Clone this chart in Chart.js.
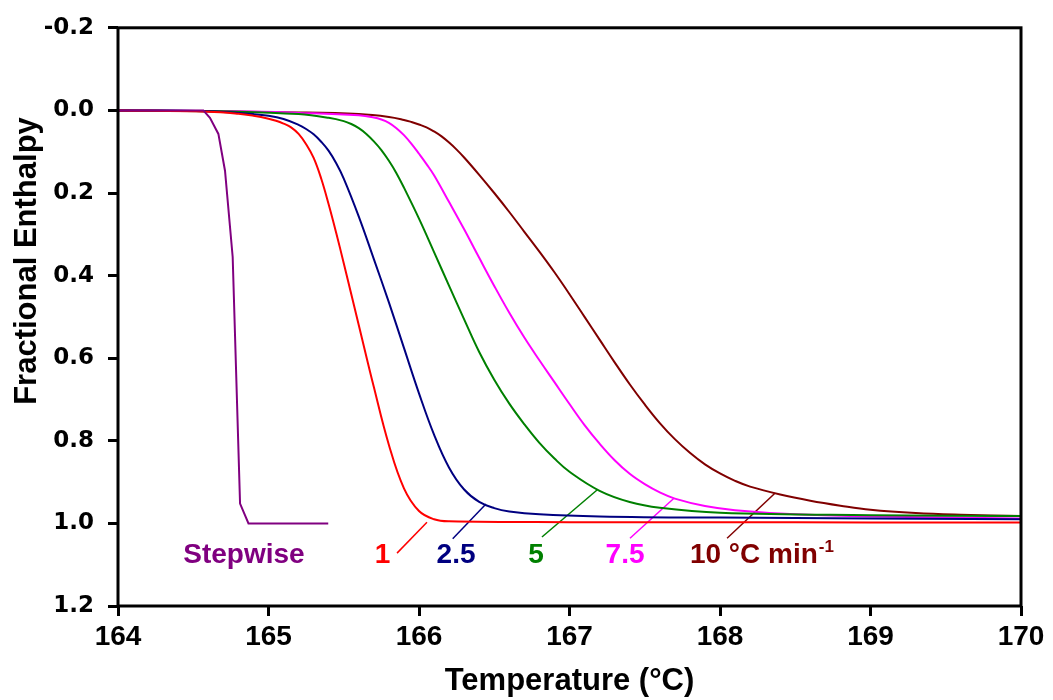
<!DOCTYPE html>
<html>
<head>
<meta charset="utf-8">
<script src="https://cdn.jsdelivr.net/npm/chart.js@4.4.1/dist/chart.umd.min.js"></script>
<style>
  html, body { margin: 0; padding: 0; background: #fff; }
</style>
</head>
<body>
<canvas id="enthalpyChart" width="1053" height="700"></canvas>
<script>
// Temperature (°C) / fractional enthalpy readings per heating rate
const stepTemp = [164, 164.567, 164.611, 164.667, 164.711, 164.762, 164.811, 164.867, 165.397];
const stepEnth = [0, 0, 0.018, 0.057, 0.146, 0.355, 0.952, 1.0, 1.0];

const rate1Temp = [164, 164.6, 164.8, 164.9, 165.0, 165.05, 165.1, 165.15, 165.2, 165.25, 165.3, 165.35, 165.4, 165.45, 165.5, 165.6, 165.7, 165.8, 165.9, 166.0, 166.1, 166.2, 167, 168, 169, 170];
const rate1Enth = [0, 0.003, 0.008, 0.013, 0.02, 0.025, 0.032, 0.041, 0.057, 0.082, 0.115, 0.165, 0.228, 0.297, 0.37, 0.52, 0.67, 0.81, 0.915, 0.97, 0.99, 0.995, 0.997, 0.997, 0.998, 0.998];

const rate25Temp = [164, 164.6, 164.9, 165.0, 165.1, 165.2, 165.25, 165.3, 165.35, 165.4, 165.45, 165.5, 165.6, 165.7, 165.8, 165.9, 166.0, 166.1, 166.2, 166.3, 166.4, 166.5, 166.6, 166.8, 167.2, 168, 170];
const rate25Enth = [0, 0.002, 0.009, 0.013, 0.021, 0.035, 0.045, 0.058, 0.076, 0.098, 0.128, 0.165, 0.257, 0.36, 0.465, 0.575, 0.685, 0.785, 0.865, 0.918, 0.948, 0.963, 0.971, 0.978, 0.983, 0.986, 0.99];

const rate5Temp = [164, 164.8, 165.2, 165.4, 165.5, 165.55, 165.6, 165.65, 165.7, 165.75, 165.8, 165.85, 165.9, 166.0, 166.1, 166.2, 166.3, 166.4, 166.5, 166.6, 166.7, 166.8, 166.9, 167.0, 167.2, 167.4, 167.6, 168.0, 169.0, 170];
const rate5Enth = [0, 0.003, 0.009, 0.018, 0.026, 0.033, 0.043, 0.057, 0.075, 0.096, 0.122, 0.152, 0.187, 0.262, 0.343, 0.425, 0.506, 0.585, 0.652, 0.71, 0.76, 0.805, 0.843, 0.875, 0.921, 0.948, 0.962, 0.974, 0.98, 0.982];

const rate75Temp = [164, 164.8, 165.2, 165.6, 165.7, 165.75, 165.8, 165.85, 165.9, 165.95, 166.0, 166.05, 166.1, 166.2, 166.3, 166.4, 166.5, 166.6, 166.7, 166.8, 166.9, 167.0, 167.1, 167.2, 167.3, 167.4, 167.5, 167.6, 167.7, 167.9, 168.1, 168.5, 169.0, 170];
const rate75Enth = [0, 0.002, 0.006, 0.012, 0.017, 0.022, 0.03, 0.043, 0.06, 0.081, 0.105, 0.13, 0.157, 0.222, 0.288, 0.357, 0.425, 0.49, 0.55, 0.605, 0.658, 0.711, 0.762, 0.807, 0.847, 0.88, 0.905, 0.925, 0.94, 0.958, 0.968, 0.978, 0.983, 0.988];

const rate10Temp = [164, 165.2, 165.6, 165.8, 165.9, 165.95, 166.0, 166.05, 166.1, 166.15, 166.2, 166.25, 166.3, 166.4, 166.5, 166.6, 166.7, 166.8, 166.9, 167.0, 167.1, 167.2, 167.3, 167.4, 167.5, 167.6, 167.7, 167.8, 167.9, 168.0, 168.1, 168.2, 168.4, 168.6, 168.8, 169.0, 169.3, 169.6, 170];
const rate10Enth = [0, 0.005, 0.009, 0.016, 0.023, 0.028, 0.034, 0.041, 0.051, 0.063, 0.078, 0.095, 0.114, 0.156, 0.2, 0.246, 0.294, 0.342, 0.392, 0.445, 0.5, 0.555, 0.61, 0.663, 0.712, 0.757, 0.796, 0.829, 0.857, 0.879, 0.897, 0.911, 0.93, 0.945, 0.957, 0.967, 0.975, 0.979, 0.982];

// leader lines from each curve to its label: [temp, enthalpy] at curve end and label end
const leaderRate1 = [[166.053, 0.997], [165.854, 1.072]];
const leaderRate25 = [[166.445, 0.953], [166.224, 1.037]];
const leaderRate5 = [[167.183, 0.919], [166.817, 1.033]];
const leaderRate75 = [[167.694, 0.939], [167.402, 1.036]];
const leaderRate10 = [[168.365, 0.927], [168.047, 1.036]];

const xTicks = [164, 165, 166, 167, 168, 169, 170];
const yTicks = [-0.2, 0.0, 0.2, 0.4, 0.6, 0.8, 1.0, 1.2];

// series labels, anchored in data units
const curveLabels = [
    { text: 'Stepwise', temp: 164.837, enth: 1.096, color: '#800080', align: 'center' },
    { text: '1', temp: 165.757, enth: 1.096, color: '#FF0000', align: 'center' },
    { text: '2.5', temp: 166.246, enth: 1.096, color: '#000080', align: 'center' },
    { text: '5', temp: 166.777, enth: 1.097, color: '#008000', align: 'center' },
    { text: '7.5', temp: 167.369, enth: 1.097, color: '#FF00FF', align: 'center' },
    { text: '10 °C min', sup: '-1', temp: 167.8, enth: 1.096, color: '#800000', align: 'left' }
];

const toPoints = (xs, ys) => xs.map((x, i) => ({ x: x, y: ys[i] }));
const toLeader = pairs => pairs.map(p => ({ x: p[0], y: p[1] }));

function curve(label, xs, ys, color, smooth) {
    return {
        label: label,
        data: toPoints(xs, ys),
        borderColor: color,
        borderWidth: 2,
        pointRadius: 0,
        fill: false,
        tension: smooth ? 0.4 : 0
    };
}

function leader(pairs, color) {
    return {
        label: 'leader',
        data: toLeader(pairs),
        borderColor: color,
        borderWidth: 1.5,
        pointRadius: 0,
        fill: false,
        tension: 0
    };
}

const boldFont = '"Liberation Sans", Arial, sans-serif';

// box around the plot, labels and the y title
const framePlugin = {
    id: 'frame',
    afterDatasetsDraw(chart) {
        const { ctx, chartArea: a, scales } = chart;
        ctx.save();
        ctx.strokeStyle = '#000';
        ctx.lineWidth = 3;
        ctx.strokeRect(a.left, a.top, a.right - a.left, a.bottom - a.top);

        curveLabels.forEach(l => {
            const px = scales.x.getPixelForValue(l.temp);
            const py = scales.y.getPixelForValue(l.enth);
            ctx.fillStyle = l.color;
            ctx.font = 'bold 28px ' + boldFont;
            ctx.textBaseline = 'alphabetic';
            ctx.textAlign = l.align;
            ctx.fillText(l.text, px, py);
            if (l.sup) {
                const w = ctx.measureText(l.text).width;
                ctx.font = 'bold 17px ' + boldFont;
                ctx.textAlign = 'left';
                ctx.fillText(l.sup, px + w + 1, py - 11);
            }
        });

        ctx.translate(27, 261);
        ctx.rotate(-Math.PI / 2);
        ctx.fillStyle = '#000';
        ctx.font = 'bold 31px ' + boldFont;
        ctx.textAlign = 'center';
        ctx.textBaseline = 'middle';
        ctx.fillText('Fractional Enthalpy', 0, 0);
        ctx.restore();
    }
};

const ctx = document.getElementById('enthalpyChart').getContext('2d');
const chart = new Chart(ctx, {
    type: 'line',
    data: {
        datasets: [
            curve('Stepwise', stepTemp, stepEnth, '#800080', false),
            curve('1', rate1Temp, rate1Enth, '#FF0000', true),
            curve('2.5', rate25Temp, rate25Enth, '#000080', true),
            curve('5', rate5Temp, rate5Enth, '#008000', true),
            curve('7.5', rate75Temp, rate75Enth, '#FF00FF', true),
            curve('10', rate10Temp, rate10Enth, '#800000', true),
            leader(leaderRate1, '#FF0000'),
            leader(leaderRate25, '#000080'),
            leader(leaderRate5, '#008000'),
            leader(leaderRate75, '#FF00FF'),
            leader(leaderRate10, '#800000')
        ]
    },
    options: {
        responsive: false,
        animation: false,
        devicePixelRatio: 1,
        layout: {
            padding: { top: 27, right: 32, left: 0, bottom: 0 }
        },
        plugins: {
            legend: { display: false },
            tooltip: { enabled: false }
        },
        scales: {
            x: {
                type: 'linear',
                min: 164,
                max: 170,
                afterBuildTicks: scale => {
                    scale.ticks = xTicks.map(v => ({ value: v }));
                },
                afterFit: scale => { scale.height = 94; },
                ticks: {
                    color: '#000',
                    padding: 4,
                    maxRotation: 0,
                    font: { family: boldFont, size: 28, weight: 'bold' }
                },
                grid: {
                    drawOnChartArea: false,
                    drawTicks: true,
                    tickLength: 10,
                    lineWidth: 3,
                    color: '#000'
                },
                border: { display: false },
                title: {
                    display: true,
                    text: 'Temperature (°C)',
                    color: '#000',
                    padding: 0,
                    font: { family: boldFont, size: 31, weight: 'bold' }
                }
            },
            y: {
                type: 'linear',
                min: -0.2,
                max: 1.2,
                reverse: true,
                afterBuildTicks: scale => {
                    scale.ticks = yTicks.map(v => ({ value: v }));
                },
                afterFit: scale => { scale.width = 118; },
                ticks: {
                    color: '#000',
                    padding: 14,
                    callback: v => (Math.abs(v) < 1e-9 ? 0 : v).toFixed(1),
                    font: { family: '"DejaVu Sans", sans-serif', size: 23, weight: 'bold' }
                },
                grid: {
                    drawOnChartArea: false,
                    drawTicks: true,
                    tickLength: 10,
                    lineWidth: 3,
                    color: '#000'
                },
                border: { display: false }
            }
        }
    },
    plugins: [framePlugin]
});
</script>
</body>
</html>
